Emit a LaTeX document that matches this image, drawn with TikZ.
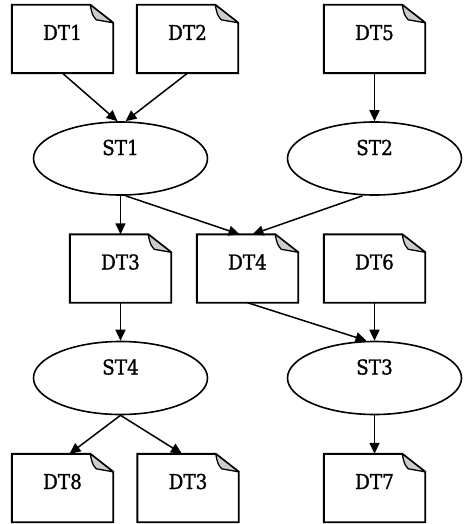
\documentclass[tikz,border=0pt]{standalone}
\usepackage{fontspec}
\setmainfont{DejaVu Serif Condensed}[FakeBold=1.2]
\usetikzlibrary{shapes.geometric,arrows.meta}

\begin{document}
\begin{tikzpicture}[x=1pt,y=-1pt,
  font=\fontsize{20.5}{22}\selectfont,
  doc/.style={rectangle, minimum width=101pt, minimum height=68pt, inner sep=0pt,
              text height=15pt, text depth=13pt},
  docline/.style={line width=1.9pt, line join=miter},
  fold/.style={line width=1.3pt, fill=gray!40, line join=round},
  task/.style={ellipse, draw, line width=1.6pt, minimum width=174pt, minimum height=73pt,
               inner sep=0pt, text height=15pt, text depth=22pt},
  flow/.style={line width=1.5pt, -{Triangle[length=11pt,width=10pt]}}]

\useasboundingbox (0,0) rectangle (464,524);

% data items
\node[doc] (dt1)  at (62.5,39)  {DT1};
\node[doc] (dt2)  at (187.5,39) {DT2};
\node[doc] (dt5)  at (374.5,39) {DT5};
\node[doc] (dt3)  at (120.5,268.5) {DT3};
\node[doc] (dt4)  at (247.5,268.5) {DT4};
\node[doc] (dt6)  at (374.5,268.5) {DT6};
\node[doc] (dt8)  at (62.5,488) {DT8};
\node[doc] (dt3b) at (188,488)  {DT3};
\node[doc] (dt7)  at (374.5,488) {DT7};

% tasks
\node[task] (st1) at (120.5,158.5) {ST1};
\node[task] (st2) at (374.5,158.5) {ST2};
\node[task] (st4) at (120.5,378)   {ST4};
\node[task] (st3) at (374.5,378)   {ST3};

% note outlines with folded corner
\foreach \n in {dt1,dt2,dt5,dt3,dt4,dt6,dt8,dt3b,dt7}{
  \draw[docline] (\n.north west) -- ([xshift=-23pt]\n.north east)
        -- ([yshift=-18pt]\n.north east) -- (\n.south east) -- (\n.south west) -- cycle;
  \draw[fold] ([xshift=-23pt]\n.north east)
        .. controls ([xshift=-21pt,yshift=-10pt]\n.north east) .. ([xshift=-17pt,yshift=-15pt]\n.north east)
        -- ([yshift=-18pt]\n.north east) -- cycle;
}

% flows
\draw[flow] (dt1.south) -- ([xshift=-3pt]st1.north);
\draw[flow] (dt2.south) -- ([xshift=5pt]st1.north);
\draw[flow] (dt5.south) -- (st2.north);
\draw[flow] (st1.south) -- (dt3.north);
\draw[flow] ([xshift=5pt]st1.south) -- ([xshift=-8pt]dt4.north);
\draw[flow] ([xshift=-12pt]st2.south) -- ([xshift=5pt]dt4.north);
\draw[flow] (dt3.south) -- (st4.north);
\draw[flow] (dt4.south) -- ([xshift=-8pt]st3.north);
\draw[flow] (dt6.south) -- (st3.north);
\draw[flow] (st4.south) -- ([xshift=7pt]dt8.north);
\draw[flow] (st4.south) -- ([xshift=-6pt]dt3b.north);
\draw[flow] (st3.south) -- (dt7.north);
\end{tikzpicture}
\end{document}
